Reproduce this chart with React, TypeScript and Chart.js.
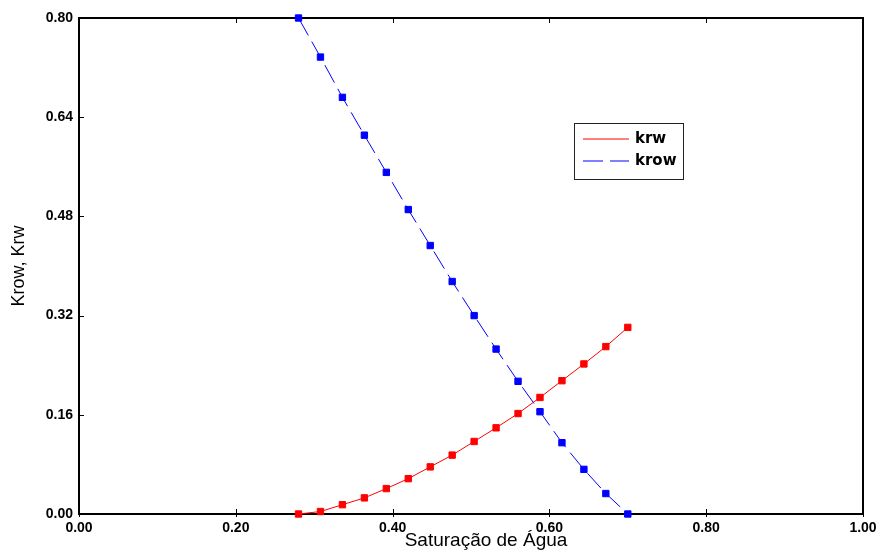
import React, { useEffect, useRef } from "react";
import { Chart, registerables } from "chart.js";

Chart.register(...registerables);

const saturation = [0.28, 0.308, 0.336, 0.364, 0.392, 0.42, 0.448, 0.476, 0.504, 0.532, 0.56, 0.588, 0.616, 0.644, 0.672, 0.7];
const krw = [0, 0.004, 0.015, 0.026, 0.041, 0.057, 0.076, 0.095, 0.117, 0.139, 0.162, 0.188, 0.215, 0.242, 0.27, 0.301];
const krow = [0.8, 0.737, 0.672, 0.611, 0.551, 0.491, 0.433, 0.375, 0.32, 0.266, 0.214, 0.165, 0.115, 0.072, 0.033, 0];
const seriesLabels = ["krw", "krow"];
const seriesColors = ["#ff0000", "#0000ff"];
const xTitle = "Saturação de Água";
const yTitle = "Krow, Krw";

const framePlugin = {
  id: "frame",
  beforeDatasetsDraw(chart: any) {
    const { ctx, chartArea } = chart;
    const { left, right, top, bottom } = chartArea;
    ctx.save();
    ctx.strokeStyle = "#000";
    ctx.lineWidth = 1;
    const xs = chart.scales.x;
    const ys = chart.scales.y;
    ctx.beginPath();
    xs.ticks.forEach((t: any) => {
      const px = Math.round(xs.getPixelForValue(t.value)) + 0.5;
      ctx.moveTo(px, bottom + 3);
      ctx.lineTo(px, bottom - 5);
      ctx.moveTo(px, top);
      ctx.lineTo(px, top + 5);
    });
    ys.ticks.forEach((t: any) => {
      const py = Math.round(ys.getPixelForValue(t.value)) + 0.5;
      ctx.moveTo(left, py);
      ctx.lineTo(left + 5, py);
    });
    ctx.stroke();
    ctx.lineWidth = 2;
    ctx.strokeRect(left, top, right - left, bottom - top);
    ctx.restore();
  },
  afterDraw(chart: any) {
    const { ctx } = chart;
    ctx.save();
    ctx.fillStyle = "#000";
    ctx.font = "19px 'Liberation Sans', Arial";
    ctx.textAlign = "center";
    ctx.textBaseline = "alphabetic";
    ctx.fillText(xTitle, 486, 546);
    ctx.restore();
  },
};

const legendPlugin = {
  id: "boxLegend",
  afterDraw(chart: any) {
    const ctx: CanvasRenderingContext2D = chart.ctx;
    const x0 = 574, y0 = 123, w = 109, h = 56;
    ctx.save();
    ctx.setLineDash([]);
    ctx.fillStyle = "#ffffff";
    ctx.fillRect(x0, y0, w, h);
    ctx.strokeStyle = "#222222";
    ctx.lineWidth = 1;
    ctx.strokeRect(x0 + 0.5, y0 + 0.5, w, h);
    ctx.restore();
    const ys = [139, 161];
    const dashes = [[], [20, 7]];
    for (let i = 0; i < seriesLabels.length; i++) {
      ctx.save();
      ctx.setLineDash(dashes[i]);
      ctx.lineWidth = 1.2;
      ctx.strokeStyle = seriesColors[i];
      ctx.beginPath();
      ctx.moveTo(583, ys[i]);
      ctx.lineTo(629, ys[i]);
      ctx.stroke();
      ctx.restore();
      ctx.save();
      ctx.fillStyle = "#000000";
      ctx.font = "bold 15px 'DejaVu Sans'";
      ctx.textBaseline = "middle";
      ctx.textAlign = "left";
      ctx.fillText(seriesLabels[i], 635, ys[i]);
      ctx.restore();
    }
  },
};

export default function App() {
  const ref = useRef<HTMLCanvasElement>(null);
  useEffect(() => {
    if (!ref.current) return;
    const tickFont = { family: "'Liberation Sans', Arial", size: 14, weight: "bold" as const };
    const titleFont = { family: "'Liberation Sans', Arial", size: 18 };
    const chart = new Chart(ref.current, {
      type: "line",
      data: {
        datasets: [
          {
            label: seriesLabels[0],
            data: saturation.map((s, i) => ({ x: s, y: krw[i] })),
            borderColor: seriesColors[0],
            backgroundColor: seriesColors[0],
            borderWidth: 1,
            pointStyle: "rect",
            pointRadius: 4.5,
            pointBorderWidth: 1,
            pointBorderColor: seriesColors[0],
            pointBackgroundColor: seriesColors[0],
            tension: 0,
            clip: false as any,
          },
          {
            label: seriesLabels[1],
            data: saturation.map((s, i) => ({ x: s, y: krow[i] })),
            borderColor: seriesColors[1],
            backgroundColor: seriesColors[1],
            borderWidth: 1,
            borderDash: [20, 7],
            pointStyle: "rect",
            pointRadius: 4.5,
            pointBorderWidth: 1,
            pointBorderColor: seriesColors[1],
            pointBackgroundColor: seriesColors[1],
            tension: 0,
            clip: false as any,
          },
        ],
      },
      options: {
        animation: false,
        responsive: false,
        devicePixelRatio: 1,
        layout: { padding: { top: 18, right: 13, left: 0, bottom: 0 } },
        plugins: { legend: { display: false }, tooltip: { enabled: false } },
        scales: {
          x: {
            type: "linear",
            min: 0,
            max: 1,
            ticks: {
              stepSize: 0.2,
              color: "#000",
              font: tickFont,
              padding: 6,
              maxRotation: 0,
              callback: (v: any) => Number(v).toFixed(2),
            },
            grid: { display: true, drawOnChartArea: false, drawTicks: false },
            border: { display: false },
            title: { display: false, text: xTitle },
            afterFit: (s: any) => { s.height = 43; s.paddingRight = 0; s.paddingLeft = 0; },
          },
          y: {
            type: "linear",
            min: 0,
            max: 0.8,
            ticks: {
              stepSize: 0.16,
              color: "#000",
              font: tickFont,
              padding: 6,
              callback: (v: any) => Number(v).toFixed(2),
            },
            grid: { display: true, drawOnChartArea: false, drawTicks: false },
            border: { display: false },
            title: { display: true, text: yTitle, color: "#000", font: titleFont, padding: { top: 8, bottom: 0 } },
            afterFit: (s: any) => { s.width = 79; s.paddingTop = 0; s.paddingBottom = 0; },
          },
        },
      },
      plugins: [framePlugin, legendPlugin],
    });
    return () => chart.destroy();
  }, []);
  return (
    <div style={{ position: "fixed", left: 0, top: 0, width: 876, height: 557, background: "#fff" }}>
      <canvas ref={ref} width={876} height={557} style={{ display: "block" }} />
    </div>
  );
}
